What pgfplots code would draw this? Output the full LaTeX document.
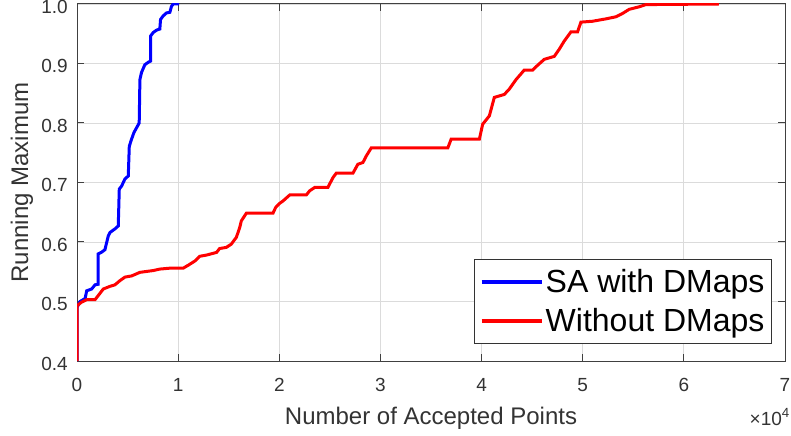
\documentclass[border=0pt]{standalone}
\usepackage{fontspec}
\setmainfont{Liberation Sans}
\usepackage{graphicx}
\usepackage{pgfplots}
\pgfplotsset{compat=1.18}

\pgfplotstableread{
x y
0 0.40
0 0.49
0.03 0.50
0.08 0.505
0.096 0.518
0.145 0.521
0.178 0.528
0.21 0.529
0.21 0.58
0.244 0.583
0.276 0.587
0.309 0.61
0.326 0.616
0.375 0.622
0.408 0.627
0.418 0.689
0.441 0.694
0.474 0.706
0.507 0.711
0.517 0.761
0.54 0.773
0.563 0.784
0.589 0.792
0.615 0.80
0.622 0.873
0.638 0.885
0.671 0.898
0.704 0.902
0.727 0.904
0.727 0.946
0.753 0.952
0.786 0.956
0.819 0.958
0.826 0.974
0.852 0.98
0.885 0.985
0.918 0.986
0.934 0.996
0.951 1.0
1.01 1.0
}\sadata

\pgfplotstableread{
x y
0 0.40
0 0.493
0.046 0.499
0.096 0.503
0.178 0.503
0.21 0.510
0.26 0.521
0.326 0.5255
0.375 0.528
0.424 0.535
0.474 0.541
0.54 0.543
0.622 0.549
0.753 0.552
0.819 0.5545
0.918 0.556
1.05 0.556
1.10 0.561
1.165 0.568
1.214 0.576
1.28 0.578
1.38 0.5825
1.41 0.589
1.477 0.591
1.526 0.5965
1.576 0.608
1.609 0.6245
1.625 0.6356
1.675 0.6485
1.938 0.6485
1.964 0.658
2.004 0.665
2.037 0.669
2.103 0.679
2.267 0.679
2.30 0.686
2.35 0.6916
2.48 0.6916
2.53 0.708
2.563 0.7156
2.728 0.7156
2.777 0.7307
2.827 0.7336
2.86 0.7446
2.909 0.758
3.666 0.758
3.699 0.7727
3.978 0.7727
4.011 0.798
4.077 0.812
4.126 0.843
4.225 0.848
4.274 0.857
4.341 0.873
4.422 0.889
4.505 0.889
4.554 0.897
4.62 0.907
4.719 0.912
4.768 0.924
4.817 0.9376
4.883 0.953
4.949 0.953
4.982 0.9695
5.097 0.971
5.229 0.975
5.328 0.9785
5.393 0.984
5.459 0.991
5.558 0.9953
5.624 0.999
6.347 1.0
}\nodata

\begin{document}
\begin{tikzpicture}
\path[use as bounding box] (-77bp,-75bp) rectangle (714bp,361bp);
\begin{axis}[
  at={(0,0)}, anchor=south west,
  scale only axis, width=708bp, height=357bp,
  xmin=0, xmax=7, ymin=0.4, ymax=1.0,
  clip mode=individual,
  xtick={0,1,2,3,4,5,6,7},
  ytick={0.4,0.5,0.6,0.7,0.8,0.9,1.0},
  yticklabel style={/pgf/number format/fixed, /pgf/number format/fixed zerofill, /pgf/number format/precision=1},
  /pgf/number format/assume math mode=true,
  tick label style={font=\fontsize{19bp}{22bp}\selectfont, text=black!80},
  xticklabel style={yshift=-14bp},
  yticklabel style={inner ysep=0bp, inner xsep=6bp, xshift=-3bp, yshift=-2.5bp},
  grid=major,
  major grid style={line width=0.8bp, draw=black!14},
  axis line style={line width=1bp, draw=black!75},
  tick style={line width=1bp, draw=black!75},
  tick align=inside, tick pos=both, major tick length=7bp,
  xlabel={Number of Accepted Points},
  xlabel style={at={(axis description cs:0.5,0)}, anchor=base, yshift=-63bp,
    font=\fontsize{24bp}{28bp}\selectfont, text=black!80},
  ylabel={Running Maximum},
  ylabel style={at={(axis description cs:-0.0777,0.5)}, anchor=center,
    font=\fontsize{24bp}{28bp}\selectfont, text=black!80},
  legend style={at={(0.9816,0.0476)}, anchor=south east,
    font=\fontsize{32bp}{37bp}\selectfont, draw=black!80, line width=1bp,
    fill=white, inner xsep=5bp, inner ysep=3.5bp,
    nodes={inner xsep=2bp, inner ysep=7bp}},
  legend cell align=left,
  legend image code/.code={\draw[#1, line width=4bp] (0bp,0bp) -- (60bp,0bp);},
]
\addplot[blue, line width=3bp] table[x=x, y=y] {\sadata};
\addlegendentry{SA with DMaps}
\addplot[red, line width=3bp] table[x=x, y=y] {\nodata};
\addlegendentry{Without DMaps}
\node[anchor=base east, font=\fontsize{19bp}{22bp}\selectfont, text=black!80,
  inner sep=0pt] at (rel axis cs:1,0) [xshift=5bp, yshift=-64bp] {×10\textsuperscript{4}};
\end{axis}
\end{tikzpicture}
\end{document}
